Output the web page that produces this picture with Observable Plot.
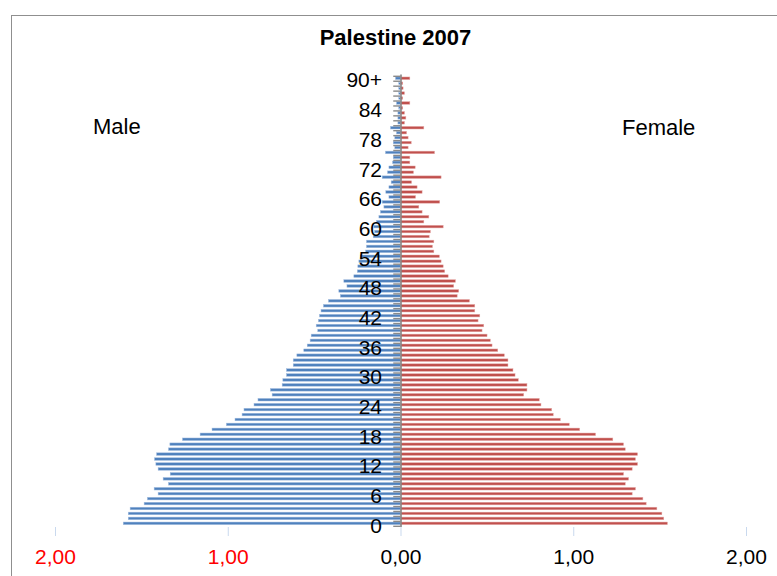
<!DOCTYPE html>
<html><head><meta charset="utf-8">
<script src="https://cdn.jsdelivr.net/npm/d3@7"></script>
<script src="https://cdn.jsdelivr.net/npm/@observablehq/plot@0.6"></script>
<style>
html,body{margin:0;padding:0;background:#fff;}
#wrap{position:relative;width:777px;height:576px;overflow:hidden;font-family:"Liberation Sans",Arial,sans-serif;color:#000;}
#frame{position:absolute;left:11px;top:15px;width:800px;height:600px;border-left:1.5px solid #8f8f8f;border-top:1.5px solid #8f8f8f;}
#title{position:absolute;left:0;width:791px;top:27px;text-align:center;font-weight:bold;font-size:22px;line-height:22px;}
.side{position:absolute;font-size:22px;line-height:22px;}
#chart{position:absolute;left:0;top:0;}
</style></head>
<body>
<div id="wrap">
  <div id="frame"></div>
  <div id="chart"></div>
  <div id="title">Palestine 2007</div>
  <div class="side" style="left:93px;top:116px;">Male</div>
  <div class="side" style="left:622px;top:117px;">Female</div>
</div>
<script>
// single-year ages 0..89 and 90+
const ageLabels = [
  "0","1","2","3","4","5","6","7","8","9",
  "10","11","12","13","14","15","16","17","18","19",
  "20","21","22","23","24","25","26","27","28","29",
  "30","31","32","33","34","35","36","37","38","39",
  "40","41","42","43","44","45","46","47","48","49",
  "50","51","52","53","54","55","56","57","58","59",
  "60","61","62","63","64","65","66","67","68","69",
  "70","71","72","73","74","75","76","77","78","79",
  "80","81","82","83","84","85","86","87","88","89","90+"
];
// percent of population, males (drawn to the left)
const male = [
  1.605,1.576,1.576,1.565,1.484,1.465,1.403,1.426,1.343,1.374,
  1.333,1.403,1.416,1.424,1.412,1.343,1.335,1.262,1.160,1.091,
  1.008,0.958,0.917,0.906,0.848,0.825,0.743,0.753,0.685,0.681,
  0.660,0.660,0.621,0.621,0.600,0.560,0.540,0.523,0.517,0.479,
  0.488,0.475,0.469,0.460,0.446,0.417,0.348,0.357,0.310,0.328,
  0.270,0.250,0.247,0.241,0.231,0.202,0.197,0.197,0.158,0.150,
  0.154,0.139,0.125,0.116,0.096,0.106,0.067,0.085,0.067,0.054,
  0.106,0.075,0.067,0.046,0.042,0.087,0.033,0.042,0.033,0.023,
  0.058,0.015,0.015,0.015,0.010,0.023,0.010,0.010,0.010,0.010,0.029
];
// percent of population, females (drawn to the right)
const female = [
  1.545,1.524,1.513,1.484,1.422,1.403,1.341,1.360,1.301,1.320,
  1.291,1.341,1.372,1.360,1.372,1.301,1.291,1.229,1.129,1.037,
  0.977,0.925,0.884,0.875,0.813,0.803,0.713,0.732,0.732,0.682,
  0.663,0.651,0.622,0.622,0.601,0.563,0.530,0.520,0.501,0.472,
  0.482,0.449,0.459,0.430,0.430,0.399,0.328,0.337,0.308,0.318,
  0.276,0.256,0.247,0.235,0.225,0.193,0.185,0.193,0.166,0.173,
  0.247,0.135,0.164,0.125,0.106,0.227,0.087,0.125,0.096,0.064,
  0.235,0.075,0.085,0.054,0.054,0.197,0.044,0.062,0.044,0.035,
  0.135,0.023,0.031,0.023,0.013,0.054,0.013,0.023,0.015,0.013,0.054
];
const yTickLabels = ["0","6","12","18","24","30","36","42","48","54","60","66","72","78","84","90+"];
const xTicks = [-2,-1,0,1,2];
const xTicksLeft = [-2,-1];
const xTicksRight = [0,1,2];

const rows = ageLabels.map((a,i) => ({age:a, male:-male[i], female:female[i]}));
const fmt = d => Math.abs(d).toFixed(2).replace(".", ",");

const H = 576, mTop = 74.6, mBottom = 49, pad = 0.48;
const step = (H - mTop - mBottom) / (ageLabels.length + pad);

const plot = Plot.plot({
  width: 777, height: H,
  marginLeft: 55, marginRight: 31, marginTop: mTop, marginBottom: mBottom,
  style: {fontFamily: "'Liberation Sans', Arial, sans-serif", fontSize: "21px", background: "transparent", color: "#000"},
  x: {domain: [-2, 2]},
  y: {type: "band", domain: ageLabels, reverse: true, padding: pad, axis: null},
  marks: [
    Plot.barX(rows, {y: "age", x: "male", fill: "#4f81bd", stroke: "#a3bde0", strokeWidth: 0.5}),
    Plot.barX(rows, {y: "age", x: "female", fill: "#c0504d", stroke: "#e5a8a6", strokeWidth: 0.5}),
    Plot.ruleY(ageLabels, {y: d => d, x1: -0.042, x2: 0, dy: step/2, stroke: "#8a8a8a", strokeWidth: 1.4}),
    Plot.ruleY(["90+"], {y: d => d, x1: -0.042, x2: 0, dy: -step/2, stroke: "#8a8a8a", strokeWidth: 1.4}),
    Plot.ruleX([0], {stroke: "#868686", strokeWidth: 1.6}),
    Plot.text(yTickLabels, {y: d => d, x: () => 0, dx: -19, dy: 2, textAnchor: "end", fill: "#000"}),
    Plot.axisX({ticks: xTicks, tickSize: 9, tickFormat: () => "", stroke: "#c9d9ee"}),
    Plot.axisX({ticks: xTicksLeft, tickSize: 0, tickPadding: 22, tickFormat: fmt, fill: "#ff0000"}),
    Plot.axisX({ticks: xTicksRight, tickSize: 0, tickPadding: 22, tickFormat: fmt, fill: "#000"})
  ]
});
document.getElementById("chart").appendChild(plot);
</script>
</body></html>
